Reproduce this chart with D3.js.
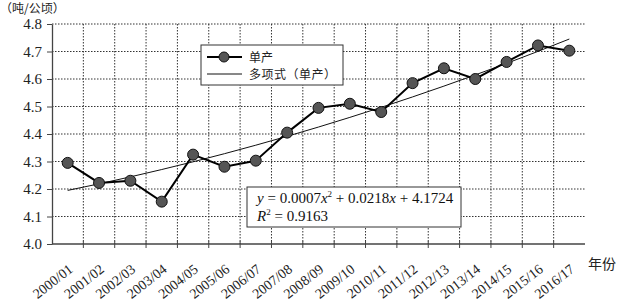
<!DOCTYPE html>
<html>
<head>
<meta charset="utf-8">
<script src="https://cdn.jsdelivr.net/npm/d3@7"></script>
<style>
  body { margin: 0; background: #fff; }
  text { font-family: "Liberation Serif", "DejaVu Serif", serif; }
  .cjk { font-family: "Noto Sans CJK SC", sans-serif; }
</style>
</head>
<body>
<div id="chart"></div>
<script>
const years = ["2000/01", "2001/02", "2002/03", "2003/04", "2004/05", "2005/06", "2006/07", "2007/08", "2008/09",
  "2009/10", "2010/11", "2011/12", "2012/13", "2013/14", "2014/15", "2015/16", "2016/17"];
const yieldValues = [4.295, 4.222, 4.23, 4.154, 4.325, 4.281, 4.303, 4.405, 4.495,
  4.51, 4.48, 4.585, 4.639, 4.60, 4.662, 4.722, 4.703];
// polynomial fit shown in the chart: a*x^2 + b*x + c, x = 1..17
const trendCoef = [0.0007, 0.0218, 4.1724];
const yTicks = [4.0, 4.1, 4.2, 4.3, 4.4, 4.5, 4.6, 4.7, 4.8];

const W = 617, H = 303;
const margin = { top: 24, right: 32, bottom: 59, left: 52 };
const width = W - margin.left - margin.right;
const height = H - margin.top - margin.bottom;

const svg = d3.select("#chart").append("svg")
  .attr("width", W).attr("height", H);
const g = svg.append("g")
  .attr("transform", `translate(${margin.left},${margin.top})`);

const x = d3.scaleBand().domain(years).range([0, width]);
const y = d3.scaleLinear().domain([4.0, 4.8]).range([height, 0]);
const cx = d => x(d) + x.bandwidth() / 2;

// grid
g.selectAll(".hgrid").data(yTicks.slice(1)).enter().append("line")
  .attr("x1", 0).attr("x2", width)
  .attr("y1", d => y(d)).attr("y2", d => y(d))
  .attr("stroke", "#333").attr("stroke-width", 1).attr("stroke-dasharray", "1.5,1.5");
g.selectAll(".vgrid").data(years.slice(1)).enter().append("line")
  .attr("x1", d => x(d)).attr("x2", d => x(d))
  .attr("y1", 0).attr("y2", height)
  .attr("stroke", "#333").attr("stroke-width", 1).attr("stroke-dasharray", "1.5,1.5");

// y axis
const yAxis = g.append("g")
  .call(d3.axisLeft(y).tickValues(yTicks).tickFormat(d3.format(".1f")).tickSize(5).tickSizeOuter(0));
yAxis.select(".domain").attr("stroke", "#444").attr("stroke-width", 1.3);
yAxis.selectAll(".tick line").attr("stroke", "#444");
yAxis.selectAll("text").attr("font-size", 15).attr("fill", "#222").attr("dx", "-2")
  .style("font-family", "Liberation Serif");

// x axis with ticks at band boundaries
const xAxisG = g.append("g").attr("transform", `translate(0,${height})`);
xAxisG.append("line").attr("x1", 0).attr("x2", width).attr("stroke", "#444").attr("stroke-width", 1.3);
xAxisG.selectAll(".xt").data(years.slice(1)).enter().append("line")
  .attr("x1", d => x(d)).attr("x2", d => x(d)).attr("y1", -3).attr("y2", 4)
  .attr("stroke", "#444");
xAxisG.selectAll(".xl").data(years).enter().append("text")
  .attr("transform", d => `translate(${cx(d) + 6},${27}) rotate(-38)`)
  .attr("text-anchor", "end")
  .attr("font-size", 14).attr("fill", "#222")
  .text(d => d);

// trend curve
const trendPts = d3.range(1, years.length + 1).map(i => [cx(years[i - 1]),
  y(trendCoef[0] * i * i + trendCoef[1] * i + trendCoef[2])]);
g.append("path").attr("d", d3.line()(trendPts))
  .attr("fill", "none").attr("stroke", "#111").attr("stroke-width", 1);

// data line
g.append("path")
  .attr("d", d3.line()(years.map((d, i) => [cx(d), y(yieldValues[i])])))
  .attr("fill", "none").attr("stroke", "#000").attr("stroke-width", 2);
g.selectAll(".pt").data(years).enter().append("circle")
  .attr("cx", d => cx(d)).attr("cy", (d, i) => y(yieldValues[i]))
  .attr("r", 5.5).attr("fill", "#555").attr("stroke", "#111").attr("stroke-width", 1);

// legend
const lg = svg.append("g").attr("transform", "translate(201,45)");
lg.append("rect").attr("width", 142).attr("height", 40)
  .attr("fill", "#fff").attr("stroke", "#333").attr("stroke-width", 1);
lg.append("line").attr("x1", 6).attr("x2", 41).attr("y1", 12).attr("y2", 12)
  .attr("stroke", "#000").attr("stroke-width", 2);
lg.append("circle").attr("cx", 23).attr("cy", 12).attr("r", 5)
  .attr("fill", "#555").attr("stroke", "#111");
lg.append("text").attr("class", "cjk").attr("x", 48).attr("y", 16.5)
  .attr("font-size", 12).attr("fill", "#222").text("单产");
lg.append("line").attr("x1", 6).attr("x2", 41).attr("y1", 29).attr("y2", 29)
  .attr("stroke", "#111").attr("stroke-width", 1);
lg.append("text").attr("class", "cjk").attr("x", 48).attr("y", 33.5)
  .attr("font-size", 12).attr("fill", "#222").attr("letter-spacing", 0.5).text("多项式（单产）");

// equation box
const eq = svg.append("g").attr("transform", "translate(247,187)");
eq.append("rect").attr("width", 214).attr("height", 40)
  .attr("fill", "#fff").attr("stroke", "#333").attr("stroke-width", 1);
const t1 = eq.append("text").attr("x", 10).attr("y", 16).attr("font-size", 15).attr("fill", "#111");
t1.append("tspan").attr("font-style", "italic").text("y");
t1.append("tspan").text(" = 0.0007");
t1.append("tspan").attr("font-style", "italic").text("x");
t1.append("tspan").attr("font-size", 9).attr("dy", -6).text("2");
t1.append("tspan").attr("dy", 6).text(" + 0.0218");
t1.append("tspan").attr("font-style", "italic").text("x");
t1.append("tspan").text(" + 4.1724");
const t2 = eq.append("text").attr("x", 10).attr("y", 34).attr("font-size", 15).attr("fill", "#111");
t2.append("tspan").attr("font-style", "italic").text("R");
t2.append("tspan").attr("font-size", 9).attr("dy", -6).text("2");
t2.append("tspan").attr("dy", 6).text(" = 0.9163");

// unit labels
svg.append("text").attr("class", "cjk").attr("x", 0).attr("y", 13)
  .attr("font-size", 12).attr("fill", "#222").text("（吨/公顷）");
svg.append("text").attr("class", "cjk").attr("x", 588).attr("y", 269)
  .attr("font-size", 14).attr("fill", "#222").text("年份");
</script>
</body>
</html>
